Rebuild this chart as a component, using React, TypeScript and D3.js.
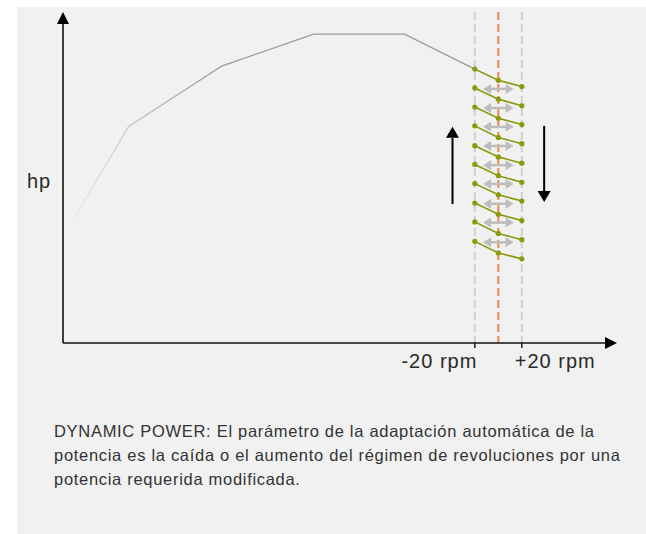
import React from "react";
import * as d3 from "d3";

// Engine curve (rpm offset relative to nominal speed, hp in relative units)
const curveRpm = [-362, -314.6, -235.5, -157.2, -79.8, -20];
const curveHp = [37.3, 65.6, 83.9, 93.6, 93.6, 83.0];

// Droop lines at -20 rpm, 0 rpm, +20 rpm
const droopRpm = [-20, 0, 20];
const droopLeftHp = [83.0, 77.3, 71.5, 65.8, 59.8, 54.1, 48.3, 42.4, 36.7, 30.8];
const droopMidHp = [79.6, 73.9, 68.1, 62.3, 56.4, 50.7, 44.9, 39.0, 33.2, 27.3];
const droopRightHp = [77.7, 71.9, 66.2, 60.4, 54.5, 48.7, 43.0, 37.1, 31.3, 25.5];

// Grey double arrows between droop lines
const shiftHp = [77.0, 71.2, 65.5, 59.7, 53.9, 48.2, 42.2, 36.5, 30.5];
const shiftRpm = [-13, 13];

// Big direction arrows
const upArrow = { rpm: -39, from: 42.1, to: 65.5 };
const downArrow = { rpm: 39, from: 65.8, to: 42.7 };

const tickLabels = ["-20 rpm", "+20 rpm"];
const yLabel = "hp";
const caption = [
  "DYNAMIC POWER: El parámetro de la adaptación automática de la",
  "potencia es la caída o el aumento del régimen de revoluciones por una",
  "potencia requerida modificada.",
];

const W = 646;
const H = 534;
const FONT = "'Liberation Sans', Arial, Helvetica, sans-serif";

export default function App() {
  const x = d3.scaleLinear().domain([-370.5, 101]).range([63, 617]);
  const y = d3.scaleLinear().domain([0, 100]).range([343, 13]);

  const line = d3
    .line<[number, number]>()
    .x((d) => x(d[0]))
    .y((d) => y(d[1]));

  const curvePts: [number, number][] = curveRpm.map((r, i) => [r, curveHp[i]]);
  const droops = droopLeftHp.map((l, i) => [
    [droopRpm[0], l],
    [droopRpm[1], droopMidHp[i]],
    [droopRpm[2], droopRightHp[i]],
  ] as [number, number][]);

  const green = "#8a9a0c";
  const greyArrow = "#bdbdbd";
  const x0 = x(-370.5);
  const y0 = y(0);

  const bigArrow = (a: { rpm: number; from: number; to: number }, key: string) => {
    const ax = x(a.rpm);
    const yf = y(a.from);
    const yt = y(a.to);
    const dir = yt < yf ? -1 : 1;
    const headLen = 11;
    const headW = 6.5;
    const base = yt - dir * headLen;
    return (
      <g key={key}>
        <line x1={ax} x2={ax} y1={yf} y2={base} stroke="#000" strokeWidth={2} />
        <path d={`M${ax - headW},${base} L${ax + headW},${base} L${ax},${yt} Z`} fill="#000" />
      </g>
    );
  };

  return (
    <svg
      width={W}
      height={H}
      style={{ position: "absolute", left: 0, top: 0 }}
      fontFamily={FONT}
    >
      <defs>
        <linearGradient id="curveGrad" gradientUnits="userSpaceOnUse" x1={70} y1={0} x2={230} y2={0}>
          <stop offset="0" stopColor="#eeeeee" />
          <stop offset="0.4" stopColor="#c4c4c4" />
          <stop offset="1" stopColor="#9a9a9a" />
        </linearGradient>
      </defs>
      <rect x={0} y={0} width={W} height={H} fill="#ffffff" />
      <rect x={17} y={7} width={W - 17} height={H - 7} fill="#f0f1f0" />

      {/* dashed verticals */}
      {droopRpm.map((r, i) => (
        <line
          key={`v${i}`}
          x1={x(r)}
          x2={x(r)}
          y1={12}
          y2={y0}
          stroke={i === 1 ? "#f2874a" : "#cfcfcf"}
          strokeWidth={2}
          strokeDasharray="8,4"
        />
      ))}

      {/* engine curve */}
      <path d={line(curvePts) || ""} fill="none" stroke="url(#curveGrad)" strokeWidth={1.3} />

      {/* grey shift arrows */}
      {shiftHp.map((h, i) => {
        const yy = y(h);
        const xa = x(shiftRpm[0]);
        const xb = x(shiftRpm[1]);
        const hl = 8;
        const hw = 5;
        return (
          <g key={`s${i}`}>
            <line x1={xa + hl - 1} x2={xb - hl + 1} y1={yy} y2={yy} stroke={greyArrow} strokeWidth={2.5} />
            <path d={`M${xa},${yy} L${xa + hl},${yy - hw} L${xa + hl},${yy + hw} Z`} fill={greyArrow} />
            <path d={`M${xb},${yy} L${xb - hl},${yy - hw} L${xb - hl},${yy + hw} Z`} fill={greyArrow} />
          </g>
        );
      })}

      {/* droop lines */}
      {droops.map((pts, i) => (
        <g key={`d${i}`}>
          <path d={line(pts) || ""} fill="none" stroke={green} strokeWidth={1.6} />
          {pts.map((p, j) => (
            <circle key={j} cx={x(p[0])} cy={y(p[1])} r={2.6} fill={green} />
          ))}
        </g>
      ))}

      {bigArrow(upArrow, "up")}
      {bigArrow(downArrow, "down")}

      {/* axes */}
      <line x1={x0} x2={x0} y1={y0} y2={22} stroke="#111" strokeWidth={1.6} />
      <path d={`M${x0 - 6},${24} L${x0 + 6},${24} L${x0},${12} Z`} fill="#000" />
      <line x1={x0} x2={606} y1={y0} y2={y0} stroke="#111" strokeWidth={1.6} />
      <path d={`M${605},${y0 - 6} L${605},${y0 + 6} L${617},${y0} Z`} fill="#000" />

      {[droopRpm[0], droopRpm[2]].map((r, i) => (
        <line key={`t${i}`} x1={x(r)} x2={x(r)} y1={y0} y2={y0 + 5} stroke="#111" strokeWidth={1.4} />
      ))}
      <text x={x(droopRpm[0]) + 2.5} y={368} fontSize={20} letterSpacing={1} fill="#2a2a2a" textAnchor="end">
        {tickLabels[0]}
      </text>
      <text x={x(droopRpm[2]) - 7} y={368} fontSize={20} letterSpacing={1} fill="#2a2a2a" textAnchor="start">
        {tickLabels[1]}
      </text>

      <text x={27} y={188} fontSize={20} letterSpacing={1} fill="#2a2a2a">
        {yLabel}
      </text>

      {caption.map((c, i) => (
        <text key={`c${i}`} x={54} y={437 + i * 24} fontSize={16.5} letterSpacing={0.7} fill="#333">
          {c}
        </text>
      ))}
    </svg>
  );
}
